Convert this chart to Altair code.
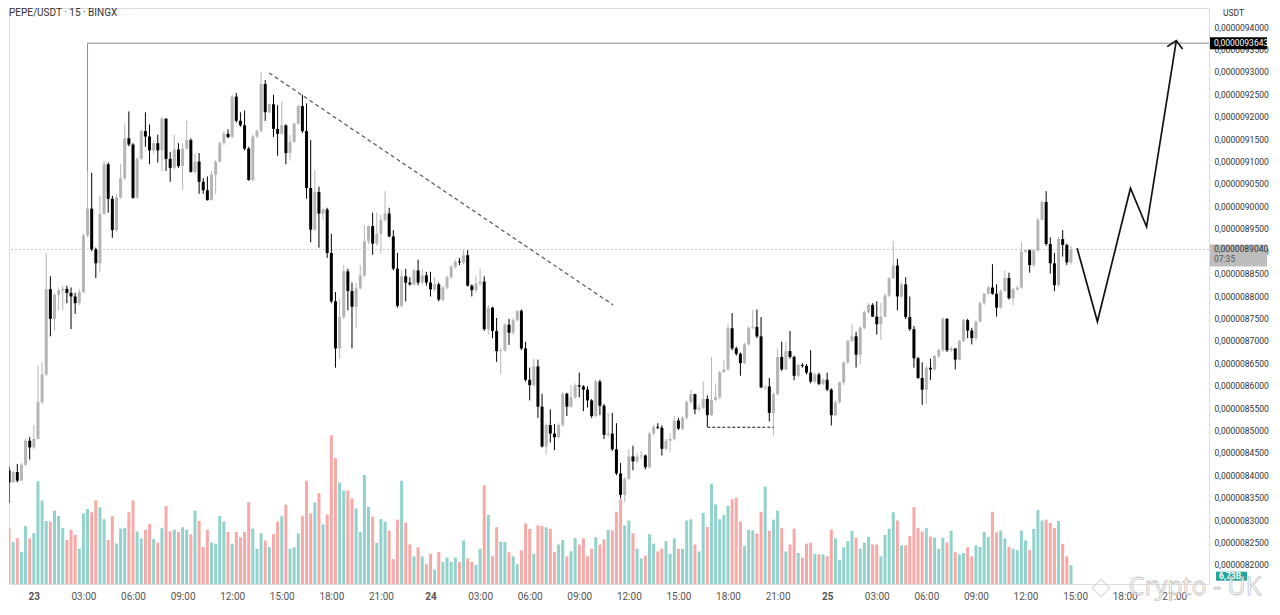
import altair as alt
import pandas as pd

# ---------------- data (PEPE/USDT 15m, prices in units of 1e-10 USDT) ----------------
FIRST_INDEX = -6          # candle index of first bar (index 0 = 23rd 00:00)
FIRST_OPEN = 84110

CLOSE = [
    83840, 84070, 83880, 84230, 84770, 84620, 84810, 85630, 86250, 88150, 87490, 88030,
    88120, 88160, 88070, 87990, 87840, 88090, 89350, 89950, 89040, 88730, 89830, 90940,
    90170, 89470, 90200, 90630, 91520, 91380, 90190, 91060, 91680, 91560, 91250, 91410,
    91250, 91960, 91060, 90860, 91270, 90900, 91290, 91480, 90770, 91000, 90550, 90360,
    90140, 90710, 91000, 91410, 91620, 91550, 92450, 91910, 91810, 91290, 90590, 91560,
    91680, 92730, 92100, 92280, 91730, 91620, 91810, 91190, 91440, 91850, 92240, 91680,
    90410, 89480, 90320, 89840, 89930, 88960, 87880, 86830, 87530, 88550, 88110, 87760,
    88170, 88460, 89220, 89560, 89170, 89390, 89700, 89840, 89330, 88610, 87780, 88440,
    88300, 88260, 88570, 88300, 88460, 88300, 88150, 88260, 87920, 88190, 88420, 88650,
    88770, 88750, 88910, 88230, 88130, 88280, 88320, 87260, 87740, 87220, 86770, 86790,
    87360, 87180, 87460, 87670, 86830, 86130, 86010, 86430, 85530, 84640, 85120, 84930,
    84850, 85120, 85820, 85530, 85740, 86010, 85980, 85910, 85670, 85320, 86090, 85550,
    84900, 84930, 84580, 84040, 83560, 83920, 84420, 84310, 84420, 84440, 84180, 84930,
    85080, 85060, 84590, 84770, 84810, 85220, 85040, 85280, 85630, 85810, 85470, 85510,
    85700, 85340, 85680, 85740, 86300, 86360, 87280, 86830, 86710, 86500, 86920, 87290,
    87310, 87100, 85960, 85980, 85390, 85810, 86640, 86360, 86770, 86640, 86220, 86460,
    86440, 86290, 86090, 86250, 86040, 86130, 85910, 85340, 85630, 86070, 86520, 87000,
    87100, 86690, 87290, 87640, 87800, 87540, 87370, 87540, 88010, 88400, 88680, 87990,
    88260, 87530, 87260, 86610, 86170, 85910, 86400, 86360, 86660, 86790, 87490, 86790,
    86830, 86580, 87000, 87460, 87230, 87060, 87430, 87840, 88050, 88190, 88050, 87740,
    88110, 88400, 87950, 88150, 88190, 88990, 89020, 88690, 89020, 89700, 90100, 89160,
    88730, 88240, 89270, 89140, 88750, 89040,
]

HIGH = [
    84190, 84110, 84250, 84270, 84810, 84850, 85120, 86440, 86520, 88960, 88440, 88070,
    88190, 88230, 88230, 88190, 88070, 88150, 89390, 90790, 90750, 89080, 90240, 91020,
    90980, 90240, 90280, 90940, 91830, 92120, 91410, 91100, 91720, 92100, 91830, 91480,
    91600, 91990, 91960, 91210, 91600, 91410, 91410, 91910, 91520, 91170, 91190, 90630,
    90670, 90790, 91030, 91440, 91680, 91720, 92490, 92530, 92100, 92140, 91330, 91600,
    91720, 93000, 92820, 92300, 92490, 92260, 92340, 91830, 91600, 91870, 92260, 92490,
    92300, 91480, 90800, 90440, 89970, 89970, 89390, 88090, 87920, 88690, 88610, 88300,
    88300, 88690, 89580, 89580, 89860, 89860, 89820, 90340, 89970, 89470, 88960, 88570,
    88610, 88420, 88610, 88810, 88610, 88540, 88540, 88420, 88300, 88230, 88460, 88690,
    88810, 88850, 89020, 89020, 88260, 88460, 88610, 88440, 87800, 87760, 87510, 86830,
    87390, 87490, 87510, 87680, 87700, 86980, 86400, 86600, 86580, 85820, 85160, 85470,
    85140, 85160, 85860, 85840, 86010, 86050, 86290, 86010, 85980, 85700, 86130, 86130,
    85590, 85390, 85390, 85160, 84270, 83960, 84580, 84660, 84500, 84540, 84460, 84970,
    85120, 85160, 85110, 84810, 84930, 85320, 85280, 85320, 85670, 85910, 85820, 85590,
    86090, 85780, 86640, 86050, 86330, 86560, 87370, 87620, 86870, 86740, 86950, 87330,
    87680, 87700, 87530, 86010, 86170, 85840, 86830, 86980, 86980, 87220, 86670, 86480,
    86500, 86480, 86790, 86290, 86290, 86170, 86290, 85940, 85670, 86090, 86530, 87020,
    87370, 87200, 87330, 87680, 87840, 87840, 87880, 87840, 88050, 88420, 89230, 88830,
    88300, 88420, 87990, 87330, 86640, 86520, 86440, 86600, 86690, 86830, 87530, 87510,
    86870, 86830, 87020, 87490, 87490, 87290, 87450, 87880, 88070, 88230, 88710, 88260,
    88150, 88570, 88520, 88190, 88230, 89200, 89040, 89040, 89040, 89740, 90130, 90340,
    89310, 88960, 89310, 89470, 89170, 89120,
]

LOW = [
    83380, 83840, 83840, 83870, 84210, 84350, 84590, 84800, 85590, 86210, 87100, 87220,
    87680, 87680, 87840, 87260, 87600, 87800, 88070, 89310, 89000, 88400, 88540, 89820,
    89860, 89300, 89430, 90170, 90590, 91340, 90170, 90170, 91020, 91330, 90940, 91170,
    90980, 90790, 90790, 90550, 90820, 90860, 90360, 91270, 90750, 90720, 90280, 90280,
    90130, 90130, 90280, 90980, 91370, 91520, 91520, 91870, 91780, 91250, 90570, 90550,
    91520, 91650, 91910, 92070, 91550, 91130, 91600, 90940, 91020, 91420, 91820, 91640,
    90170, 89200, 89450, 89080, 89700, 88850, 87840, 86400, 86600, 87490, 87680, 86830,
    87290, 88150, 88420, 89160, 88920, 89120, 88960, 89660, 89310, 88570, 87740, 87740,
    87880, 88230, 88230, 88240, 88260, 88230, 87990, 88110, 87880, 87880, 88150, 88380,
    88610, 88690, 88710, 88210, 87990, 88070, 88230, 87220, 87140, 87060, 86530, 86250,
    86750, 86910, 87140, 87430, 86790, 86090, 85670, 85980, 85280, 84620, 84460, 84730,
    84560, 84810, 85080, 85320, 85510, 85700, 85740, 85430, 85510, 85280, 85290, 85340,
    84810, 84850, 84540, 84000, 83480, 83400, 83880, 84110, 84270, 84350, 84130, 84150,
    84890, 85030, 84440, 84560, 84520, 84770, 85010, 85010, 85240, 85590, 85360, 85430,
    85470, 85080, 85320, 85650, 85700, 86290, 86330, 86790, 86670, 86220, 86480, 86890,
    87260, 87060, 85940, 85900, 85200, 84890, 85780, 86330, 86350, 86600, 86120, 86190,
    86400, 86250, 86050, 86050, 86010, 86010, 85880, 85110, 85320, 85600, 86010, 86480,
    86970, 86400, 86480, 87260, 87600, 87530, 87140, 87020, 87530, 87980, 88380, 87680,
    87950, 87490, 87220, 86400, 86150, 85570, 85590, 86130, 86330, 86610, 86750, 86750,
    86750, 86360, 86560, 86970, 87060, 86920, 87020, 87410, 87800, 88030, 88030, 87540,
    87720, 88090, 87920, 87800, 88110, 88160, 88960, 88520, 88650, 88990, 89690, 89120,
    88500, 88110, 88210, 88880, 88690, 88700,
]

VOLUME = [  # billions
    19.8, 14.9, 16.2, 11.3, 20.5, 16.2, 18.0, 36.4, 29.6, 22.3, 22.1, 26.0,
    24.1, 19.8, 15.6, 19.2, 17.4, 12.5, 25.0, 26.6, 25.4, 29.6, 27.2, 22.9,
    15.6, 24.1, 14.3, 19.6, 19.8, 25.4, 29.6, 18.6, 16.2, 19.2, 21.3, 15.9,
    14.7, 19.8, 27.6, 18.6, 19.2, 18.4, 20.1, 19.2, 17.6, 26.0, 22.3, 13.1,
    19.2, 14.7, 14.3, 24.1, 22.1, 18.4, 14.3, 18.4, 16.5, 18.4, 29.0, 19.6,
    12.5, 18.0, 15.4, 13.0, 17.6, 22.1, 24.0, 28.1, 12.5, 13.0, 17.9, 24.0,
    36.6, 25.0, 28.9, 32.2, 21.1, 24.6, 52.7, 44.6, 36.0, 33.1, 33.1, 30.3,
    26.8, 18.4, 38.6, 27.3, 23.8, 14.6, 23.0, 22.1, 18.9, 8.8, 22.8, 36.6,
    21.7, 14.0, 9.8, 13.0, 9.8, 7.0, 10.7, 5.1, 11.3, 7.8, 9.4, 7.8,
    9.4, 7.8, 15.4, 9.1, 7.8, 6.7, 12.5, 35.0, 24.4, 9.8, 20.1, 14.9,
    14.9, 11.3, 9.8, 7.0, 11.9, 21.4, 19.5, 10.7, 20.7, 20.5, 20.1, 19.5,
    11.3, 14.0, 15.6, 9.8, 11.6, 16.2, 14.0, 16.2, 9.8, 12.5, 16.5, 14.0,
    15.8, 19.2, 19.0, 25.6, 30.0, 20.8, 22.5, 18.0, 12.5, 9.1, 10.0, 17.6,
    14.3, 11.5, 12.5, 15.2, 10.7, 16.2, 12.5, 12.5, 22.5, 22.9, 14.0, 11.5,
    25.2, 20.2, 35.5, 28.2, 22.9, 24.5, 27.7, 30.0, 30.6, 22.1, 13.5, 19.2,
    19.0, 17.9, 25.6, 34.5, 18.9, 22.8, 26.0, 19.8, 11.5, 14.0, 19.6, 11.0,
    9.3, 14.3, 14.7, 10.7, 10.5, 10.5, 9.8, 19.2, 16.2, 8.6, 13.0, 15.2,
    18.9, 16.4, 12.5, 14.6, 16.7, 14.0, 14.0, 9.8, 17.4, 19.6, 25.4, 22.5,
    13.7, 13.7, 17.0, 27.2, 19.8, 18.6, 19.8, 16.8, 16.4, 12.5, 16.4, 14.7,
    18.9, 11.3, 10.5, 11.0, 13.0, 9.8, 13.7, 13.1, 18.4, 16.7, 25.6, 18.3,
    18.9, 16.2, 13.2, 12.5, 12.0, 18.9, 15.4, 12.0, 19.5, 26.2, 22.5, 22.8,
    21.6, 19.8, 22.3, 14.2, 9.8, 6.7,
]

DAY_LABELS = ["23", "24", "25"]
HOUR_LABELS = ["00", "03", "06", "09", "12", "15", "18", "21"]
PRICE_TICKS = list(range(82000, 94001, 500))
TIME_TICKS = list(range(0, 280, 12))

LEVEL_PRICE = 93643
LEVEL_START = 13
TREND_I = [56.9, 140.2]
TREND_P = [92980, 87800]
RANGE_I = [163.0, 179.0]
RANGE_P = 85070
PROJ_I = [252.5, 257.4, 265.4, 269.3, 276.5]
PROJ_P = [89065, 87430, 90405, 89545, 93700]
ARROW_I = [274.3, 276.5, 278.0]
ARROW_P = [93565, 93700, 93513]
COUNTDOWN = "07:35"
VOLUME_LABEL = "6,73B"
VOLUME_LABEL_P = 81746
TITLE = "PEPE/USDT · 15 · BINGX"

# ---------------- frames ----------------
n = len(CLOSE)
idx = list(range(FIRST_INDEX, FIRST_INDEX + n))
OPEN = [FIRST_OPEN] + CLOSE[:-1]
df = pd.DataFrame({"i": idx, "open": OPEN, "close": CLOSE, "high": HIGH,
                   "low": LOW, "vol": VOLUME})
df["dir"] = ["up" if c >= o else "down" for o, c in zip(OPEN, CLOSE)]
LAST = CLOSE[-1]

# ---------------- layout ----------------
W, H = 1200, 576
X_DOM = [-4.8, 283.2]
P_DOM = [81572, 94428]
PX = (P_DOM[1] - P_DOM[0]) / H
V_DOM = [0, 204]
FONT = "Roboto"

xs = alt.Scale(domain=X_DOM, nice=False, zero=False)
ps = alt.Scale(domain=P_DOM, nice=False, zero=False)

x_label_expr = ("datum.value % 96 == 0 ? " + str(DAY_LABELS) + "[datum.value / 96] : "
                + str(HOUR_LABELS) + "[(datum.value % 96) / 12] + ':00'")
x_axis = alt.Axis(values=TIME_TICKS, labelExpr=x_label_expr, domain=False,
                  ticks=False, grid=False, labelFontSize=10, labelColor="#555555",
                  labelPadding=7, labelFlush=False, labelOverlap=False, title=None,
                  labelFont=FONT,
                  labelFontWeight={"condition": {"test": "datum.value % 96 == 0",
                                                 "value": "bold"}, "value": "normal"})
y_axis = alt.Axis(orient="right", values=PRICE_TICKS, labelExpr="'0,00000' + datum.value",
                  domain=False, ticks=False, grid=False, labelFontSize=8.5,
                  labelColor="#333333", labelPadding=5, labelFlush=False,
                  labelOverlap=False, title=None, labelFont=FONT)


def X(field="i"):
    return alt.X(f"{field}:Q", scale=xs, axis=x_axis)


def P(field, axis=None):
    return alt.Y(f"{field}:Q", scale=ps, axis=axis)


candle_color = alt.condition("datum.dir == 'up'", alt.value("#b5b5b5"), alt.value("#000000"))
vol_color = alt.condition("datum.dir == 'up'", alt.value("#92d2cc"), alt.value("#f7a9a7"))

vol = alt.Chart(df).mark_bar(width=3, clip=True).encode(
    x=X(),
    y=alt.Y("vol:Q", scale=alt.Scale(domain=V_DOM, nice=False), axis=None),
    color=vol_color)

price_line = alt.Chart(pd.DataFrame({"p": [LAST]})).mark_rule(
    color="#c8c8c8", strokeDash=[2, 2], strokeWidth=1).encode(y=P("p"))

wick = alt.Chart(df).mark_rule(strokeWidth=1, clip=True).encode(
    x=X(), y=P("low", axis=y_axis), y2="high", color=candle_color)

body = alt.Chart(df).mark_bar(width=3, clip=True).encode(
    x=X(), y=P("open"), y2="close", color=candle_color)

level = alt.Chart(pd.DataFrame({"i": [LEVEL_START], "p": [LEVEL_PRICE]})).mark_rule(
    color="#8a8a8a", strokeWidth=1).encode(x=X(), x2=alt.value(W), y=P("p"))

vert = alt.Chart(pd.DataFrame({"i": [LEVEL_START], "p": [LEVEL_PRICE],
                               "p0": [HIGH[LEVEL_START - FIRST_INDEX]]})).mark_rule(
    color="#8a8a8a", strokeWidth=1).encode(x=X(), y=P("p0"), y2="p")

trend = alt.Chart(pd.DataFrame({"i": TREND_I, "p": TREND_P})).mark_line(
    color="#555555", strokeDash=[4, 3], strokeWidth=1.2).encode(x=X(), y=P("p"))

rng = alt.Chart(pd.DataFrame({"i": [RANGE_I[0]], "i2": [RANGE_I[1]], "p": [RANGE_P]})).mark_rule(
    color="#111111", strokeDash=[3, 2], strokeWidth=1).encode(x=X(), x2="i2", y=P("p"))

proj = alt.Chart(pd.DataFrame({"k": list(range(len(PROJ_I))), "i": PROJ_I, "p": PROJ_P})).mark_line(
    color="#111111", strokeWidth=1.7).encode(x=X(), y=P("p"), order="k:Q")

arrow = alt.Chart(pd.DataFrame({"k": list(range(len(ARROW_I))), "i": ARROW_I, "p": ARROW_P})).mark_line(
    color="#111111", strokeWidth=1.7).encode(x=X(), y=P("p"), order="k:Q")


def box(p_lo, p_hi, x1, x2, fill):
    return alt.Chart(pd.DataFrame({"a": [p_lo], "b": [p_hi]})).mark_rect(color=fill).encode(
        x=alt.value(x1), x2=alt.value(x2), y=P("a"), y2="b")


def label(text, p, x, color, size=8.5, weight="normal"):
    return alt.Chart(pd.DataFrame({"t": [text], "p": [p]})).mark_text(
        align="left", baseline="middle", fontSize=size, color=color, font=FONT,
        fontWeight=weight).encode(x=alt.value(x), y=P("p"), text="t:N")


box_level = box(LEVEL_PRICE - 6 * PX, LEVEL_PRICE + 6 * PX, W + 1, W + 58, "#000000")
txt_level = label("0,00000" + str(LEVEL_PRICE), LEVEL_PRICE, W + 5, "#ffffff")
box_last = box(LAST - 17 * PX, LAST + 5 * PX, W + 1, W + 58, "#bdbdbd")
txt_last = label("0,00000" + str(LAST), LAST, W + 5, "#333333")
txt_cd = label(COUNTDOWN, LAST - 10 * PX, W + 5, "#555555")
box_vol = box(VOLUME_LABEL_P - 4.5 * PX, VOLUME_LABEL_P + 4.5 * PX, W + 7, W + 38, "#26a69a")
txt_vol = label(VOLUME_LABEL, VOLUME_LABEL_P, W + 10, "#ffffff", weight="bold")

title = alt.Chart(pd.DataFrame({"t": [TITLE]})).mark_text(
    align="left", baseline="middle", fontSize=10, color="#333333", font=FONT).encode(
    x=alt.value(0), y=alt.value(5), text="t:N")

usdt = alt.Chart(pd.DataFrame({"t": ["USDT"]})).mark_text(
    align="left", baseline="middle", fontSize=8.5, color="#333333", font=FONT).encode(
    x=alt.value(W + 14), y=alt.value(5), text="t:N")

wm_text = alt.Chart(pd.DataFrame({"t": ["Crypto - UK"]})).mark_text(
    align="right", baseline="middle", fontSize=25, font="Open Sans", color="#ffffff",
    fillOpacity=0.6, stroke="#c4c4c4", strokeWidth=0.8).encode(
    x=alt.value(W + 52), y=alt.value(H + 3), text="t:N")

wm_logo = alt.Chart(pd.DataFrame({"t": ["logo"]})).mark_point(
    shape="diamond", filled=False, size=300, color="#cfcfcf", strokeWidth=1.2).encode(
    x=alt.value(W - 108), y=alt.value(H + 4))

chart = alt.layer(
    vol, price_line, wick, body, level, vert, trend, rng, proj, arrow,
    box_level, txt_level, box_last, txt_last, txt_cd, box_vol, txt_vol,
    title, usdt, wm_logo, wm_text,
).resolve_scale(y="independent").properties(
    width=W, height=H, padding=0
).configure_view(strokeWidth=0).configure(font=FONT)

chart.save("out.html", embed_options={"renderer": "svg", "actions": False})
